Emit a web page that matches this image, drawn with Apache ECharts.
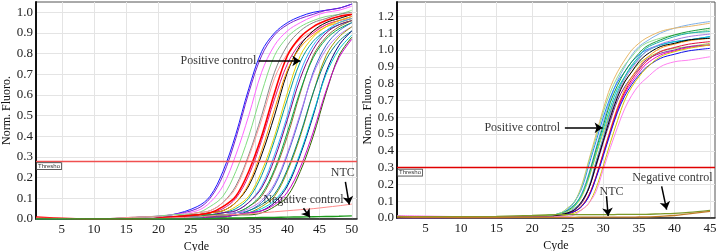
<!DOCTYPE html>
<html>
<head>
<meta charset="utf-8">
<script src="https://cdn.jsdelivr.net/npm/echarts@6/dist/echarts.min.js"></script>
<style>
  html, body { margin: 0; padding: 0; background: #fff; }
  #chart { width: 720px; height: 251px; }
</style>
</head>
<body>
<div id="chart"></div>
<script>
  var leftCycles = [1, 10, 18, 22, 26, 28, 30, 32, 34, 36, 38, 40, 42, 44, 46, 48, 50]
  var rightCycles = [1, 5, 10, 15, 20, 22, 24, 25, 26, 27, 28, 29, 30, 31, 32, 33, 34, 35, 36, 38, 40, 42, 45]

  var xTicksLeft = [5, 10, 15, 20, 25, 30, 35, 40, 45, 50]
  var xTicksRight = [5, 10, 15, 20, 25, 30, 35, 40, 45]
  var yTicksLeft = [0, 0.1, 0.2, 0.3, 0.4, 0.5, 0.6, 0.7, 0.8, 0.9, 1.0]
  var yTicksRight = [0, 0.1, 0.2, 0.3, 0.4, 0.5, 0.6, 0.7, 0.8, 0.9, 1.0, 1.1, 1.2]

  var leftThreshold = 0.28
  var rightThreshold = 0.3

  // left panel: amplification curves (Norm. Fluoro.)
  var leftBlue = [0, 0, 0.01, 0.02, 0.06, 0.11, 0.23, 0.41, 0.63, 0.81, 0.90, 0.95, 0.98, 1.00, 1.01, 1.02, 1.04]
  var leftPurple = [0, 0, 0.01, 0.02, 0.05, 0.10, 0.21, 0.39, 0.61, 0.79, 0.89, 0.94, 0.97, 0.99, 1.01, 1.02, 1.04]
  var leftPink = [0, 0, 0.01, 0.02, 0.04, 0.08, 0.16, 0.31, 0.50, 0.71, 0.84, 0.91, 0.95, 0.98, 1.00, 1.01, 1.03]
  var leftLightGreen = [0, 0, 0.01, 0.02, 0.03, 0.06, 0.11, 0.23, 0.40, 0.61, 0.79, 0.88, 0.93, 0.96, 0.98, 0.99, 1.01]
  var leftGray = [0, 0, 0.01, 0.01, 0.03, 0.04, 0.08, 0.16, 0.31, 0.50, 0.71, 0.84, 0.91, 0.95, 0.97, 0.99, 1.00]
  var leftSalmon = [0, 0, 0.01, 0.01, 0.03, 0.04, 0.08, 0.15, 0.30, 0.48, 0.68, 0.80, 0.87, 0.91, 0.94, 0.96, 0.97]
  var leftRed = [0.01, 0, 0, 0.01, 0.02, 0.03, 0.06, 0.11, 0.23, 0.40, 0.61, 0.79, 0.88, 0.93, 0.96, 0.98, 0.99]
  var leftDeepPink = [0, 0, 0, 0.01, 0.02, 0.03, 0.05, 0.10, 0.21, 0.38, 0.58, 0.75, 0.85, 0.90, 0.94, 0.96, 0.98]
  var leftBlack = [0, 0, 0, 0.01, 0.02, 0.03, 0.04, 0.08, 0.16, 0.31, 0.50, 0.71, 0.84, 0.91, 0.95, 0.97, 0.99]
  var leftOrange = [0, 0, 0, 0.01, 0.02, 0.03, 0.04, 0.08, 0.17, 0.33, 0.53, 0.72, 0.83, 0.89, 0.93, 0.95, 0.97]
  var leftYellow = [0, 0, 0, 0.01, 0.02, 0.02, 0.03, 0.06, 0.11, 0.23, 0.40, 0.61, 0.79, 0.88, 0.93, 0.96, 0.98]
  var leftDarkCyan = [0, 0, 0, 0.01, 0.02, 0.02, 0.03, 0.05, 0.10, 0.21, 0.38, 0.58, 0.76, 0.86, 0.91, 0.94, 0.96]
  var leftSky = [0, 0, 0, 0.01, 0.01, 0.02, 0.03, 0.04, 0.08, 0.16, 0.31, 0.50, 0.71, 0.84, 0.91, 0.95, 0.97]
  var leftDarkPurple = [0, 0, 0, 0.01, 0.01, 0.02, 0.03, 0.04, 0.08, 0.15, 0.29, 0.48, 0.68, 0.82, 0.90, 0.94, 0.96]
  var leftBrown = [0, 0, 0, 0, 0.01, 0.02, 0.02, 0.03, 0.06, 0.11, 0.23, 0.40, 0.61, 0.79, 0.88, 0.93, 0.96]
  var leftGreen = [0, 0, 0, 0, 0.01, 0.02, 0.02, 0.03, 0.06, 0.12, 0.24, 0.42, 0.62, 0.78, 0.87, 0.92, 0.95]
  var leftSteel = [0, 0, 0, 0, 0.01, 0.01, 0.02, 0.03, 0.04, 0.08, 0.16, 0.31, 0.50, 0.71, 0.84, 0.91, 0.95]
  var leftViolet = [0, 0, 0, 0, 0.01, 0.01, 0.02, 0.03, 0.05, 0.09, 0.17, 0.32, 0.51, 0.70, 0.82, 0.89, 0.93]
  var leftOlive = [0, 0, 0, 0, 0.01, 0.01, 0.02, 0.02, 0.03, 0.06, 0.11, 0.23, 0.40, 0.61, 0.79, 0.88, 0.93]
  var leftTeal = [0, 0, 0, 0, 0.01, 0.01, 0.02, 0.02, 0.04, 0.07, 0.12, 0.24, 0.41, 0.61, 0.77, 0.86, 0.91]
  var leftNavy = [0, 0, 0, 0, 0.01, 0.01, 0.01, 0.02, 0.03, 0.04, 0.08, 0.16, 0.31, 0.50, 0.71, 0.84, 0.91]
  var leftCyan = [0, 0, 0, 0, 0.01, 0.01, 0.01, 0.02, 0.03, 0.05, 0.09, 0.17, 0.32, 0.51, 0.70, 0.82, 0.89]
  var leftDarkGreen = [0, 0, 0, 0, 0, 0.01, 0.01, 0.02, 0.02, 0.03, 0.06, 0.11, 0.23, 0.40, 0.61, 0.79, 0.88]
  var leftMagenta = [0, 0, 0, 0, 0, 0.01, 0.01, 0.02, 0.03, 0.04, 0.07, 0.13, 0.25, 0.42, 0.62, 0.78, 0.87]
  var leftNTC = [0.005, 0, 0, 0.005, 0.01, 0.015, 0.02, 0.022, 0.025, 0.03, 0.035, 0.04, 0.045, 0.05, 0.057, 0.064, 0.072]
  var leftNegative = [0, 0, 0, 0, 0, 0.002, 0.004, 0.005, 0.006, 0.007, 0.008, 0.009, 0.01, 0.011, 0.012, 0.013, 0.015]

  // right panel
  var rightLightBlue = [0.005, 0.005, 0.005, 0.005, 0.005, 0.015, 0.025, 0.045, 0.08, 0.15, 0.27, 0.42, 0.57, 0.71, 0.82, 0.90, 0.97, 1.02, 1.05, 1.10, 1.13, 1.15, 1.17]
  var rightTan = [0.005, 0.005, 0.005, 0.005, 0.008, 0.01, 0.03, 0.06, 0.10, 0.20, 0.35, 0.50, 0.65, 0.78, 0.87, 0.94, 1.00, 1.04, 1.07, 1.11, 1.13, 1.14, 1.16]
  var rightBlue1 = [0.005, 0.005, 0.005, 0.005, 0.008, 0.01, 0.03, 0.05, 0.10, 0.18, 0.32, 0.46, 0.60, 0.72, 0.81, 0.87, 0.93, 0.97, 1.00, 1.03, 1.05, 1.06, 1.08]
  var rightLightGreen = [0.005, 0.005, 0.005, 0.005, 0.008, 0.01, 0.03, 0.06, 0.10, 0.19, 0.34, 0.48, 0.63, 0.75, 0.84, 0.91, 0.96, 1.01, 1.04, 1.07, 1.09, 1.10, 1.12]
  var rightGreen = [0.01, 0.008, 0.006, 0.005, 0.005, 0.015, 0.025, 0.045, 0.08, 0.14, 0.26, 0.41, 0.55, 0.69, 0.79, 0.87, 0.93, 0.98, 1.02, 1.06, 1.09, 1.11, 1.13]
  var rightCyan = [0.005, 0.005, 0.005, 0.005, 0.005, 0.015, 0.025, 0.04, 0.075, 0.14, 0.25, 0.39, 0.53, 0.66, 0.77, 0.84, 0.90, 0.95, 0.99, 1.03, 1.05, 1.06, 1.08]
  var rightYellowGreen = [0.005, 0.005, 0.005, 0.005, 0.005, 0.015, 0.025, 0.04, 0.07, 0.13, 0.24, 0.38, 0.51, 0.64, 0.74, 0.81, 0.87, 0.92, 0.95, 0.99, 1.01, 1.02, 1.04]
  var rightBlack = [0.003, 0.003, 0.003, 0.004, 0.005, 0.005, 0.02, 0.03, 0.05, 0.10, 0.18, 0.32, 0.46, 0.60, 0.72, 0.81, 0.87, 0.93, 0.97, 1.02, 1.04, 1.06, 1.07]
  var rightTeal = [0.005, 0.005, 0.005, 0.005, 0.005, 0.005, 0.02, 0.03, 0.06, 0.10, 0.19, 0.34, 0.48, 0.63, 0.75, 0.84, 0.91, 0.96, 1.01, 1.05, 1.08, 1.10, 1.11]
  var rightViolet = [0.005, 0.005, 0.005, 0.005, 0.005, 0.005, 0.02, 0.03, 0.055, 0.10, 0.185, 0.33, 0.47, 0.615, 0.735, 0.825, 0.89, 0.945, 0.99, 1.035, 1.06, 1.08, 1.095]
  var rightPurple = [-0.003, -0.003, 0, 0, 0.003, 0.005, 0.02, 0.03, 0.05, 0.09, 0.18, 0.31, 0.45, 0.58, 0.70, 0.78, 0.84, 0.89, 0.94, 0.98, 1.00, 1.02, 1.03]
  var rightOrange = [0.005, 0.005, 0.005, 0.005, 0.005, 0.005, 0.015, 0.025, 0.04, 0.075, 0.14, 0.25, 0.39, 0.53, 0.66, 0.765, 0.84, 0.90, 0.95, 1.01, 1.035, 1.055, 1.07]
  var rightMagenta = [0.005, 0.005, 0.005, 0.005, 0.005, 0.005, 0.015, 0.025, 0.04, 0.07, 0.135, 0.245, 0.38, 0.515, 0.64, 0.74, 0.81, 0.865, 0.915, 0.97, 0.995, 1.015, 1.03]
  var rightRed = [0.005, 0.005, 0.005, 0.005, 0.005, 0.005, 0.015, 0.025, 0.04, 0.072, 0.138, 0.248, 0.385, 0.52, 0.65, 0.75, 0.825, 0.88, 0.93, 0.99, 1.015, 1.035, 1.05]
  var rightBlue2 = [0.005, 0.005, 0.005, 0.005, 0.005, 0.005, 0.015, 0.025, 0.04, 0.07, 0.13, 0.24, 0.37, 0.505, 0.63, 0.725, 0.795, 0.85, 0.895, 0.95, 0.975, 0.995, 1.01]
  var rightYellow = [0.005, 0.005, 0.005, 0.005, 0.005, 0.005, 0.01, 0.02, 0.03, 0.05, 0.09, 0.18, 0.31, 0.45, 0.58, 0.70, 0.78, 0.84, 0.89, 0.96, 0.99, 1.01, 1.03]
  var rightPink = [0.015, 0.012, 0.008, 0.005, 0.005, 0.005, 0.01, 0.01, 0.02, 0.05, 0.09, 0.16, 0.29, 0.42, 0.54, 0.65, 0.73, 0.79, 0.83, 0.90, 0.93, 0.94, 0.96]
  var rightNegative = [0.01, 0.008, 0.008, 0.01, 0.015, 0.018, 0.02, 0.02, 0.02, 0.02, 0.02, 0.02, 0.02, 0.02, 0.021, 0.021, 0.021, 0.022, 0.022, 0.025, 0.028, 0.033, 0.045]
  var rightNTC = [0.005, 0.004, 0.003, 0.003, 0.004, 0.004, 0.004, 0.004, 0.004, 0.005, 0.005, 0.005, 0.005, 0.005, 0.005, 0.005, 0.005, 0.006, 0.006, 0.01, 0.015, 0.025, 0.04]

  // annotation labels and arrows, in data coordinates
  var leftNotes = [['Positive control', 29.3, 0.765], ['NTC', 48.6, 0.221], ['Negative control', 42.5, 0.095]]
  var leftArrows = [[[35.5, 0.765], [42.0, 0.765]], [[49.0, 0.18], [49.6, 0.07]], [[42.5, 0.052], [43.5, 0.008]]]
  var rightNotes = [['Positive control', 18.6, 0.537], ['NTC', 31.15, 0.158], ['Negative control', 39.7, 0.24]]
  var rightArrows = [[[24.6, 0.537], [29.9, 0.537]], [[30.45, 0.13], [30.68, 0.012]], [[38.2, 0.188], [38.9, 0.05]]]

  var leftCurves = [
    ['#1a1aff', leftBlue], ['#7a1fd0', leftPurple], ['#ff66ff', leftPink], ['#7fdc7f', leftLightGreen],
    ['#888888', leftGray], ['#ff9a9a', leftSalmon], ['#e0157f', leftDeepPink], ['#000000', leftBlack],
    ['#ff9900', leftOrange], ['#e6d200', leftYellow], ['#009999', leftDarkCyan], ['#33aaff', leftSky],
    ['#800080', leftDarkPurple], ['#996633', leftBrown], ['#00aa44', leftGreen], ['#3366cc', leftSteel],
    ['#bb77ee', leftViolet], ['#999900', leftOlive], ['#008080', leftTeal], ['#000080', leftNavy],
    ['#00cccc', leftCyan], ['#336600', leftDarkGreen], ['#cc00cc', leftMagenta], ['#ff0000', leftRed]
  ]
  var rightCurves = [
    ['#7fb0e8', rightLightBlue], ['#e8b86a', rightTan], ['#1e7fff', rightBlue1], ['#8fdc8f', rightLightGreen],
    ['#1a9a3a', rightGreen], ['#00c4cc', rightCyan], ['#a8d050', rightYellowGreen], ['#20b0a8', rightTeal],
    ['#a77be0', rightViolet], ['#7b2d9e', rightPurple], ['#ff9a1a', rightOrange], ['#f000c8', rightMagenta],
    ['#e0103c', rightRed], ['#1010e8', rightBlue2], ['#d4c400', rightYellow], ['#000000', rightBlack],
    ['#ff80f0', rightPink]
  ]

  var serif = "'Liberation Serif', 'Times New Roman', serif"

  function curve(cycles, values, color, idx, width) {
    return {
      type: 'line',
      xAxisIndex: idx,
      yAxisIndex: idx,
      data: cycles.map(function (c, i) { return [c, values[i]] }),
      smooth: 0.35,
      showSymbol: false,
      silent: true,
      lineStyle: { color: color, width: width || 1 },
      itemStyle: { color: color }
    }
  }

  function extras(idx, threshold, thrColor, notes, arrows) {
    return [{
      type: 'line',
      xAxisIndex: idx,
      yAxisIndex: idx,
      data: [],
      silent: true,
      markLine: {
        silent: true,
        symbol: ['none', 'none'],
        animation: false,
        lineStyle: { color: thrColor, width: 1.3, type: 'solid' },
        label: {
          show: true,
          position: 'insideStartBottom',
          distance: [1, 2],
          formatter: 'Thresho',
          fontSize: 6,
          fontFamily: 'Liberation Sans',
          color: '#333',
          backgroundColor: '#fff',
          borderColor: '#444',
          borderWidth: 0.8,
          padding: [0, 1]
        },
        data: [{ yAxis: threshold }]
      }
    }, {
      type: 'line',
      xAxisIndex: idx,
      yAxisIndex: idx,
      data: [],
      silent: true,
      z: 5,
      markLine: {
        silent: true,
        animation: false,
        symbol: ['none', 'arrow'],
        symbolSize: 8,
        label: { show: false },
        lineStyle: { color: '#000', width: 1.5, type: 'solid' },
        data: arrows.map(function (a) { return [{ coord: a[0] }, { coord: a[1] }] })
      }
    }, {
      type: 'scatter',
      xAxisIndex: idx,
      yAxisIndex: idx,
      silent: true,
      z: 6,
      symbolSize: 1,
      itemStyle: { color: 'rgba(0,0,0,0)' },
      label: {
        show: true,
        position: 'inside',
        color: '#000',
        fontSize: 12,
        fontFamily: serif,
        formatter: function (p) { return p.data.name }
      },
      data: notes.map(function (n) { return { name: n[0], value: [n[1], n[2]] } })
    }]
  }

  function xAxis(idx, max, ticks) {
    return {
      type: 'value',
      gridIndex: idx,
      min: 1,
      max: max,
      name: 'Cyde',
      nameLocation: 'middle',
      nameGap: 18,
      nameTextStyle: { fontFamily: serif, fontSize: 12, color: '#111' },
      axisLine: { lineStyle: { color: '#222', width: 1.5 } },
      axisTick: { show: false, customValues: ticks },
      axisLabel: { customValues: ticks, fontFamily: serif, fontSize: 13, color: '#222', margin: 4 },
      splitLine: { show: true, lineStyle: { color: '#e4e4e4', width: 1 } }
    }
  }

  function yAxis(idx, max, ticks) {
    return {
      type: 'value',
      gridIndex: idx,
      min: 0,
      max: max,
      name: 'Norm. Fluoro.',
      nameLocation: 'middle',
      nameGap: 22,
      nameTextStyle: { fontFamily: serif, fontSize: 12, color: '#111' },
      axisLine: { show: true, lineStyle: { color: '#111', width: 2 } },
      axisTick: { show: false, customValues: ticks },
      axisLabel: {
        customValues: ticks,
        fontFamily: serif,
        fontSize: 13,
        color: '#222',
        margin: 3,
        formatter: function (v) { return v.toFixed(1) }
      },
      splitLine: { show: true, lineStyle: { color: '#e4e4e4', width: 1 } }
    }
  }

  var series = []
  leftCurves.forEach(function (c) { series.push(curve(leftCycles, c[1], c[0], 0, c[0] === '#ff0000' ? 1.6 : 1)) })
  series.push(curve(leftCycles, leftNTC, '#ff8a8a', 0, 1))
  series.push(curve(leftCycles, leftNegative, '#1a9a1a', 0, 1.4))
  rightCurves.forEach(function (c) { series.push(curve(rightCycles, c[1], c[0], 1)) })
  series.push(curve(rightCycles, rightNegative, '#7d9a2a', 1, 1.3))
  series.push(curve(rightCycles, rightNTC, '#c07a28', 1, 1.3))
  series = series.concat(extras(0, leftThreshold, '#f05050', leftNotes, leftArrows))
  series = series.concat(extras(1, rightThreshold, '#e00000', rightNotes, rightArrows))

  var chart = echarts.init(document.getElementById('chart'))
  chart.setOption({
    animation: false,
    backgroundColor: '#fff',
    grid: [
      { left: 36, right: 363, top: 2, bottom: 32, show: true, borderColor: '#555', borderWidth: 1, outerBoundsMode: 'none', containLabel: false },
      { left: 397, right: 5, top: 2, bottom: 33, show: true, borderColor: '#555', borderWidth: 1, outerBoundsMode: 'none', containLabel: false }
    ],
    xAxis: [xAxis(0, 50.8, xTicksLeft), xAxis(1, 45.7, xTicksRight)],
    yAxis: [yAxis(0, 1.05, yTicksLeft), yAxis(1, 1.286, yTicksRight)],
    series: series
  })
</script>
</body>
</html>
